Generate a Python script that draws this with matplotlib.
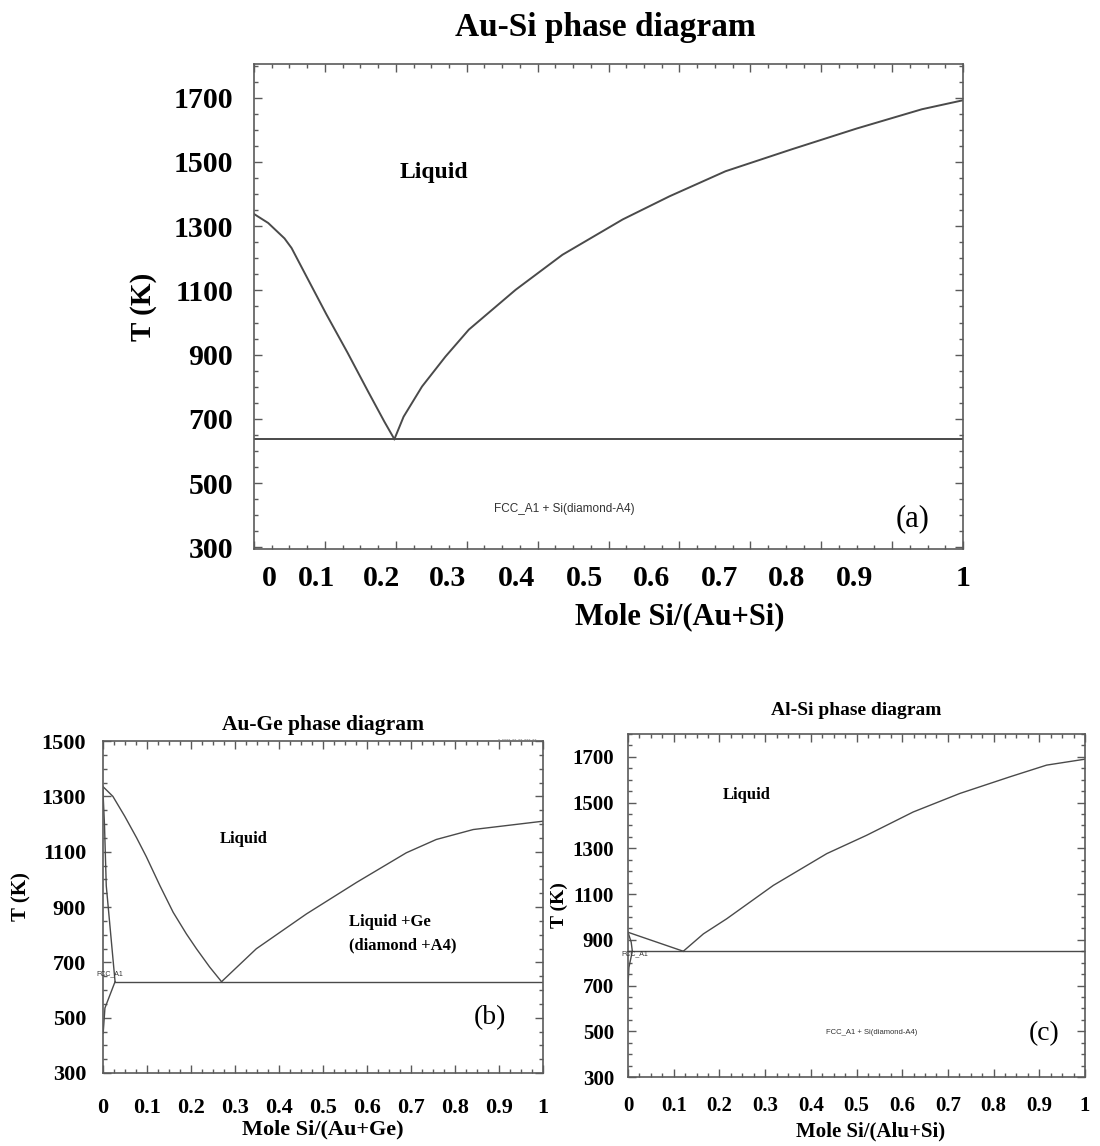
import matplotlib
matplotlib.use("Agg")
import matplotlib.pyplot as plt
from matplotlib.ticker import MultipleLocator

# ---------------- data ----------------
# (a) Au-Si
a_left_x = [0.0, 0.02, 0.043, 0.053, 0.072, 0.102, 0.132, 0.161, 0.184, 0.198]
a_left_T = [1338, 1310, 1262, 1232, 1152, 1026, 906, 785, 691, 637]
a_right_x = [0.198, 0.211, 0.237, 0.27, 0.303, 0.369, 0.435, 0.52, 0.586, 0.665, 0.758, 0.85, 0.942, 1.0]
a_right_T = [637, 707, 801, 894, 978, 1102, 1211, 1321, 1393, 1471, 1539, 1604, 1664, 1692]
a_eutectic_T = 637

# (b) Au-Ge
b_left_x = [0.0, 0.023, 0.05, 0.077, 0.099, 0.13, 0.16, 0.19, 0.213, 0.243, 0.27]
b_left_T = [1336, 1300, 1228, 1150, 1082, 977, 881, 803, 749, 683, 630]
b_right_x = [0.27, 0.349, 0.463, 0.577, 0.69, 0.758, 0.842, 1.0]
b_right_T = [630, 749, 875, 989, 1096, 1144, 1180, 1210]
b_solidus_x = [0.0, 0.004, 0.008, 0.028]
b_solidus_T = [1336, 1196, 977, 630]
b_solvus_x = [0.028, 0.005, 0.001]
b_solvus_T = [630, 535, 444]
b_eutectic_T = 630

# (c) Al-Si
c_left_x = [0.0, 0.121]
c_left_T = [933, 850]
c_right_x = [0.121, 0.165, 0.216, 0.318, 0.435, 0.522, 0.624, 0.726, 0.836, 0.916, 1.0]
c_right_T = [850, 926, 992, 1138, 1277, 1357, 1459, 1540, 1613, 1664, 1690]
c_solidus_x = [0.0, 0.007, 0.0095]
c_solidus_T = [933, 890, 850]
c_solvus_x = [0.0095, 0.002, 0.0]
c_solvus_T = [850, 779, 700]
c_eutectic_T = 850

x_ticks = [0, 0.1, 0.2, 0.3, 0.4, 0.5, 0.6, 0.7, 0.8, 0.9, 1.0]
x_tick_labels = ["0", "0.1", "0.2", "0.3", "0.4", "0.5", "0.6", "0.7", "0.8", "0.9", "1"]
a_y_ticks = [300, 500, 700, 900, 1100, 1300, 1500, 1700]
b_y_ticks = [300, 500, 700, 900, 1100, 1300, 1500]
c_y_ticks = [300, 500, 700, 900, 1100, 1300, 1500, 1700]

# ---------------- style ----------------
SERIF = ["Liberation Serif", "DejaVu Serif"]
SANS = ["Liberation Sans", "DejaVu Sans"]
LINE = "#4a4a4a"
SPINE = "#5a5a5a"

fig = plt.figure(figsize=(11.0, 11.46), dpi=100)

def setup(ax, ylim, yticks, fs, xpad, ypad, show_xlabels=True):
    ax.set_xlim(0, 1)
    ax.set_ylim(*ylim)
    ax.set_xticks(x_ticks)
    ax.set_yticks(yticks)
    ax.xaxis.set_minor_locator(MultipleLocator(0.025))
    ax.yaxis.set_minor_locator(MultipleLocator(50))
    ax.tick_params(which="both", direction="in", top=True, right=True, color=SPINE, width=1.0)
    ax.tick_params(which="major", length=6)
    ax.tick_params(which="minor", length=3)
    ax.tick_params(axis="x", pad=xpad)
    ax.tick_params(axis="y", pad=ypad)
    if show_xlabels:
        ax.set_xticklabels(x_tick_labels)
    else:
        ax.set_xticklabels([""] * len(x_ticks))
    for lab in ax.get_xticklabels() + ax.get_yticklabels():
        lab.set_family(SERIF)
        lab.set_fontweight("bold")
        lab.set_fontsize(fs)
    for s in ax.spines.values():
        s.set_color(SPINE)
        s.set_linewidth(1.2)

# ---------------- (a) ----------------
axa = fig.add_axes([0.2309, 0.5209, 0.6446, 0.4233])
setup(axa, (295, 1805), a_y_ticks, 21.5, 14, 15, show_xlabels=False)
axa.plot(a_left_x, a_left_T, color=LINE, lw=1.4)
axa.plot(a_right_x, a_right_T, color=LINE, lw=1.4)
axa.plot([0, 1], [a_eutectic_T, a_eutectic_T], color=LINE, lw=1.4)
# the reference places its x tick labels at these axes fractions (not under the ticks)
a_label_pos = [0.022, 0.088, 0.180, 0.273, 0.370, 0.466, 0.560, 0.656, 0.751, 0.847, 1.0]
for p, t in zip(a_label_pos, x_tick_labels):
    axa.text(p, -0.06, t, transform=axa.transAxes, ha="center", va="center",
             family=SERIF, fontweight="bold", fontsize=21.5)
axa.text(0.60, -0.14, "Mole Si/(Au+Si)", transform=axa.transAxes, ha="center", va="center",
         family=SERIF, fontweight="bold", fontsize=22)
axa.set_ylabel("T (K)", family=SERIF, fontweight="bold", fontsize=21, labelpad=12)
axa.text(0.254, 1466, "Liquid", ha="center", va="center", family=SERIF, fontweight="bold", fontsize=17)
axa.text(0.438, 421, "FCC_A1 + Si(diamond-A4)", ha="center", va="center",
         family=SANS, fontsize=8.5, color="#333333")
axa.text(0.929, 390, "(a)", ha="center", va="center", family=SERIF, fontsize=22)
fig.text(0.550, 0.976, "Au-Si phase diagram", ha="center", va="center",
         family=SERIF, fontweight="bold", fontsize=24)

# ---------------- (b) ----------------
axb = fig.add_axes([0.0934, 0.0637, 0.400, 0.2897])
setup(axb, (300, 1500), b_y_ticks, 16, 18, 12)
axb.plot(b_left_x, b_left_T, color=LINE, lw=1.0)
axb.plot(b_right_x, b_right_T, color=LINE, lw=1.0)
axb.plot(b_solidus_x, b_solidus_T, color=LINE, lw=1.0)
axb.plot(b_solvus_x, b_solvus_T, color=LINE, lw=1.0)
axb.plot([b_solidus_x[-1], 1], [b_eutectic_T, b_eutectic_T], color=LINE, lw=1.0)
axb.set_xlabel("Mole Si/(Au+Ge)", family=SERIF, fontweight="bold", fontsize=16, labelpad=1)
axb.set_ylabel("T (K)", family=SERIF, fontweight="bold", fontsize=15, labelpad=10)
axb.yaxis.set_label_coords(-0.161, 0.53)
axb.set_title("Au-Ge phase diagram", family=SERIF, fontweight="bold", fontsize=15.5, pad=8)
axb.text(0.32, 1144, "Liquid", ha="center", va="center", family=SERIF, fontweight="bold", fontsize=12)
axb.text(0.56, 846, "Liquid +Ge", ha="left", va="center", family=SERIF, fontweight="bold", fontsize=12)
axb.text(0.56, 761, "(diamond +A4)", ha="left", va="center", family=SERIF, fontweight="bold", fontsize=12)
axb.text(-0.014, 660, "FCC_A1", ha="left", va="center", family=SANS, fontsize=5, color="#333333")
axb.text(0.88, 500, "(b)", ha="center", va="center", family=SERIF, fontsize=20)
axb.text(0.985, 1497, "- ---- -- -- --- --", ha="right", va="bottom",
         family=SANS, fontsize=4.5, color="#555555")

# ---------------- (c) ----------------
axc = fig.add_axes([0.5709, 0.0602, 0.4155, 0.2993])
setup(axc, (300, 1800), c_y_ticks, 15, 14, 10)
axc.plot(c_left_x, c_left_T, color=LINE, lw=1.0)
axc.plot(c_right_x, c_right_T, color=LINE, lw=1.0)
axc.plot(c_solidus_x, c_solidus_T, color=LINE, lw=1.0)
axc.plot(c_solvus_x, c_solvus_T, color=LINE, lw=1.0)
axc.plot([0, 1], [c_eutectic_T, c_eutectic_T], color=LINE, lw=1.0)
axc.text(0.53, -0.158, "Mole Si/(Alu+Si)", transform=axc.transAxes, ha="center", va="center",
         family=SERIF, fontweight="bold", fontsize=15)
axc.set_ylabel("T (K)", family=SERIF, fontweight="bold", fontsize=14, labelpad=3)
axc.set_title("Al-Si phase diagram", family=SERIF, fontweight="bold", fontsize=14, pad=14)
axc.text(0.26, 1532, "Liquid", ha="center", va="center", family=SERIF, fontweight="bold", fontsize=12)
axc.text(-0.015, 840, "FCC_A1", ha="left", va="center", family=SANS, fontsize=5, color="#333333")
axc.text(0.534, 494, "FCC_A1 + Si(diamond-A4)", ha="center", va="center",
         family=SANS, fontsize=5.5, color="#333333")
axc.text(0.91, 490, "(c)", ha="center", va="center", family=SERIF, fontsize=20)

fig.savefig("out.png", dpi=100, facecolor="white")
